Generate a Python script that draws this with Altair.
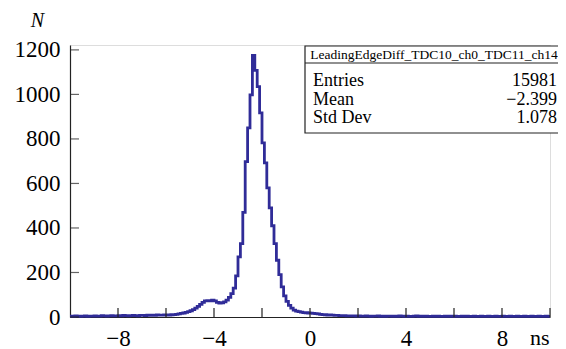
import altair as alt
import pandas as pd

# histogram: 200 bins of 0.1 ns from -10 to 10 (left edges), counts
bin_lo = -10.0
bin_w = 0.1
counts = [
    # -10.0 .. -9.1
    4, 3, 5, 4, 3, 4, 5, 3, 4, 4,
    # -9.0 .. -8.1
    5, 4, 4, 6, 5, 4, 5, 6, 5, 5,
    # -8.0 .. -7.1
    6, 5, 7, 6, 5, 6, 7, 6, 5, 7,
    # -7.0 .. -6.1
    7, 6, 8, 7, 8, 7, 9, 8, 8, 9,
    # -6.0 .. -5.1
    8, 9, 10, 11, 12, 14, 16, 18, 21, 24,
    # -5.0 .. -4.1
    28, 33, 40, 48, 57, 66, 72, 74, 73, 76,
    # -4.0 .. -3.1
    72, 66, 63, 64, 68, 76, 88, 105, 130, 185,
    # -3.0 .. -2.1
    270, 330, 470, 698, 850, 998, 1175, 1108, 1035, 917,
    # -2.0 .. -1.1
    782, 692, 580, 490, 410, 330, 255, 190, 135, 95,
    # -1.0 .. -0.1
    70, 52, 40, 31, 26, 24, 22, 20, 19, 18,
    # 0.0 .. 0.9
    17, 16, 15, 14, 12, 11, 10, 9, 9, 8,
    # 1.0 .. 1.9
    7, 7, 6, 6, 6, 5, 5, 5, 5, 4,
    # 2.0 .. 2.9
    5, 4, 4, 5, 4, 3, 4, 4, 5, 3,
    # 3.0 .. 3.9
    4, 3, 4, 4, 3, 4, 3, 5, 4, 3,
    # 4.0 .. 4.9
    4, 3, 3, 4, 5, 3, 4, 3, 4, 3,
    # 5.0 .. 5.9
    3, 4, 3, 4, 3, 3, 4, 3, 4, 3,
    # 6.0 .. 6.9
    4, 3, 3, 4, 3, 4, 3, 3, 4, 3,
    # 7.0 .. 7.9
    3, 4, 3, 3, 4, 3, 3, 4, 3, 3,
    # 8.0 .. 8.9
    4, 3, 3, 4, 3, 3, 4, 3, 3, 4,
    # 9.0 .. 9.9
    3, 3, 4, 3, 3, 4, 3, 3, 4, 3,
]

x_label_values = [-8, -4, 0, 4, 8]
x_tick_values = [-8, -6, -4, -2, 0, 2, 4, 6, 8, 10]
y_tick_values = [0, 200, 400, 600, 800, 1000, 1200]

stats_title = "LeadingEdgeDiff_TDC10_ch0_TDC11_ch14"
stats_names = ["Entries", "Mean", "Std Dev"]
stats_values = ["15981", "\u22122.399", "1.078"]

FONT = "Liberation Serif"
COLOR = "#302c98"

edges = [round(bin_lo + i * bin_w, 2) for i in range(len(counts) + 1)]
hist = pd.DataFrame({"x": edges, "n": counts + [counts[-1]]})

xscale = alt.Scale(domain=[-10, 10], nice=False, zero=False)
yscale = alt.Scale(domain=[0, 1222], nice=False)

line = alt.Chart(hist).mark_line(
    interpolate="step-after", color=COLOR, strokeWidth=2.8
).encode(
    x=alt.X("x:Q", scale=xscale, axis=alt.Axis(
        values=x_label_values, grid=False, ticks=False, tickSize=0,
        domainColor="#222222", domainWidth=1.2, format="d",
        labelFont=FONT, labelFontSize=23, labelColor="black", labelPadding=10,
        labelExpr="datum.value < 0 ? '\u2212' + abs(datum.value) : datum.label",
        title="ns", titleFont=FONT, titleFontSize=22, titleFontWeight="normal",
        titleColor="black", titleX=479, titleY=27, titleAlign="right",
        titleBaseline="alphabetic",
    )),
    y=alt.Y("n:Q", scale=yscale, axis=alt.Axis(
        values=y_tick_values, grid=False, ticks=False, tickSize=0,
        domainColor="#222222", domainWidth=1.2, format="d",
        labelFont=FONT, labelFontSize=23, labelColor="black", labelPadding=10,
        title="N", titleFont=FONT, titleFontSize=20, titleFontWeight="normal",
        titleFontStyle="italic", titleColor="black", titleAngle=0,
        titleX=-33, titleY=-19, titleAlign="center", titleBaseline="alphabetic",
    )),
)

xt = alt.Chart(pd.DataFrame({"x": x_tick_values})).mark_rule(
    color="#222222", strokeWidth=1.2
).encode(
    x=alt.X("x:Q", scale=xscale),
    y=alt.value(272), y2=alt.value(263),
)

yt = alt.Chart(pd.DataFrame({"n": y_tick_values})).mark_tick(
    color="#222222", thickness=1.2, size=9, orient="horizontal", xOffset=4.5
).encode(
    y=alt.Y("n:Q", scale=yscale),
    x=alt.datum(-10),
)

one = pd.DataFrame({"a": [0]})
box = alt.Chart(one).mark_rect(
    fill="white", stroke="#222222", strokeWidth=1.2
).encode(
    x=alt.value(235), x2=alt.value(493), y=alt.value(1), y2=alt.value(88),
)
sep = alt.Chart(one).mark_rule(
    color="#222222", strokeWidth=1.2
).encode(
    x=alt.value(235), x2=alt.value(493), y=alt.value(18),
)
title_txt = alt.Chart(one).mark_text(
    font=FONT, fontSize=13.5, align="center", baseline="alphabetic", color="black",
    text=stats_title,
).encode(x=alt.value(364), y=alt.value(14))

row_baselines = [40.7, 59.5, 78]
stat_layers = []
for name, val, yb in zip(stats_names, stats_values, row_baselines):
    stat_layers.append(alt.Chart(one).mark_text(
        font=FONT, fontSize=18, align="left", baseline="alphabetic", color="black",
        text=name,
    ).encode(x=alt.value(243), y=alt.value(yb)))
    stat_layers.append(alt.Chart(one).mark_text(
        font=FONT, fontSize=18, align="right", baseline="alphabetic", color="black",
        text=val,
    ).encode(x=alt.value(487), y=alt.value(yb)))

chart = alt.layer(line, xt, yt, box, sep, title_txt, *stat_layers).properties(
    width=480, height=272,
    padding={"left": 62, "top": 37, "right": 8, "bottom": 32},
    autosize=alt.AutoSizeParams(type="none"),
).configure_view(strokeWidth=0).configure(background="white")

chart.save("out.html", embed_options={"renderer": "svg", "actions": False})
